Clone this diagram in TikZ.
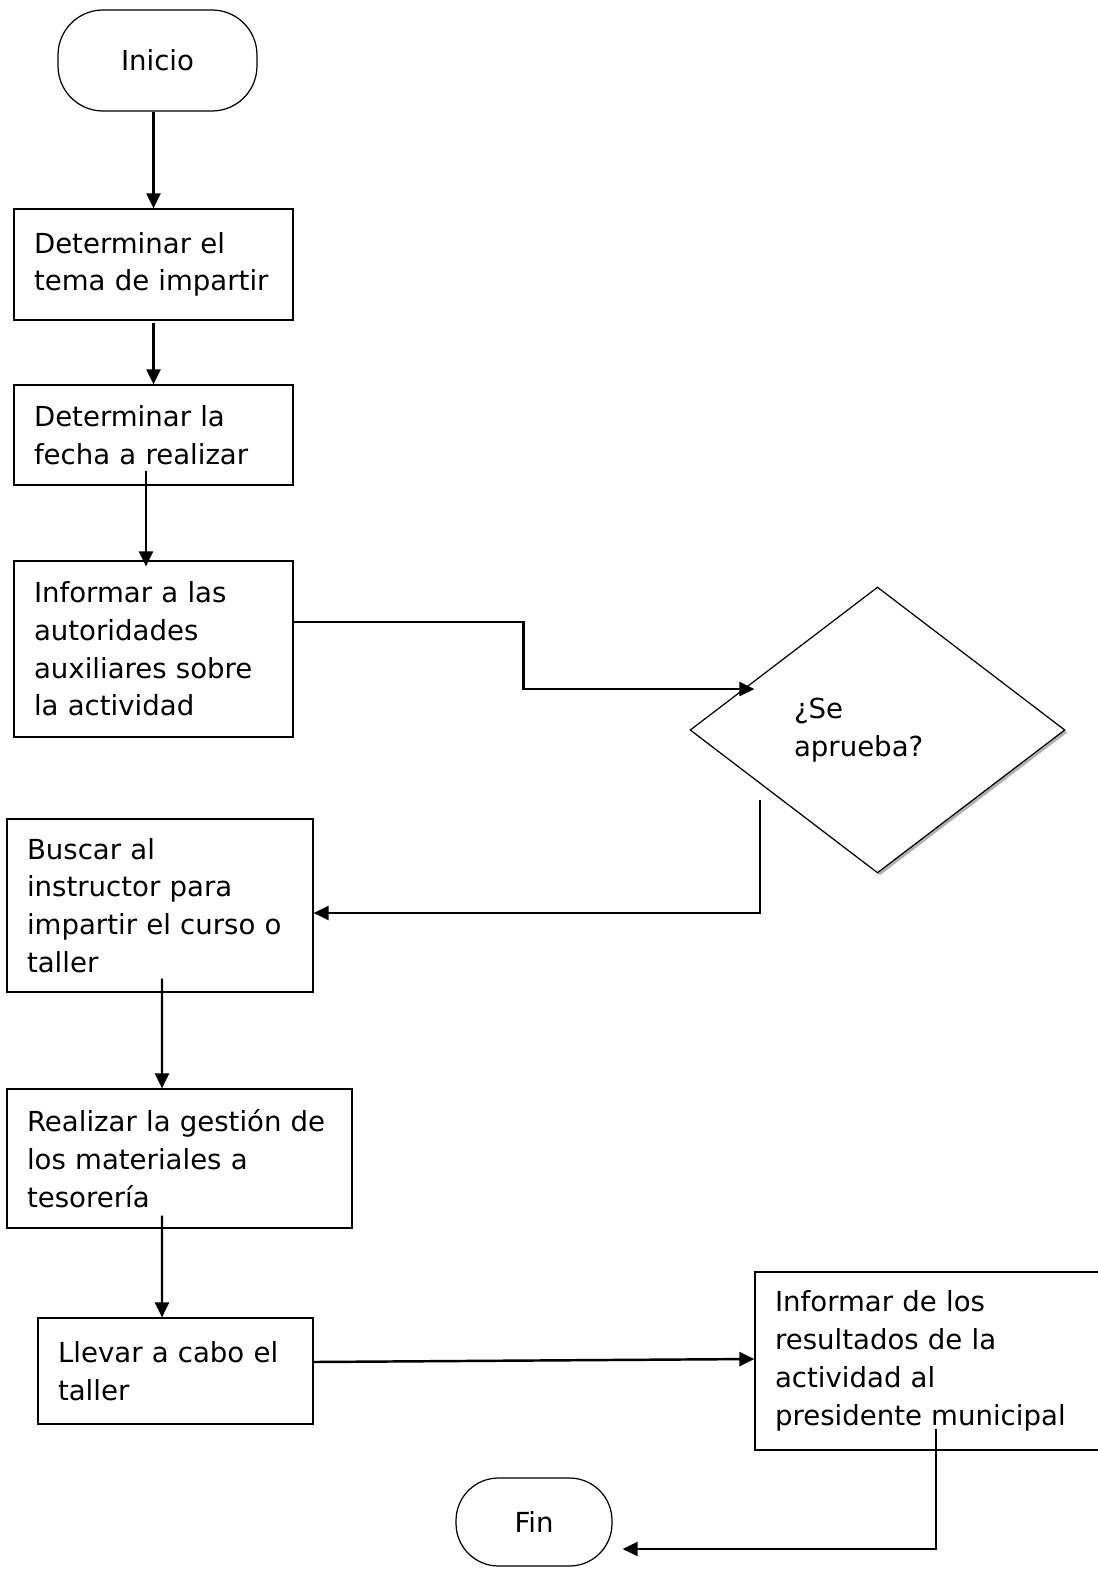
\documentclass[tikz,border=0pt]{standalone}
\usepackage{fontspec}
\setmainfont{DejaVu Sans}
\usetikzlibrary{arrows.meta,shapes.geometric,shadows}

\begin{document}
\begin{tikzpicture}[x=0.02cm,y=-0.02cm,
  txt/.style={font=\fontsize{15.7}{21.5}\selectfont},
  box/.style={txt,draw,rectangle,align=left,inner xsep=0.4cm,line width=0.7pt},
  term/.style={txt,draw,rectangle,line width=0.7pt},
  flow/.style={-{Triangle[length=0.3cm,width=0.28cm]},line width=1.4pt}]
\useasboundingbox (0,0) rectangle (1098,1571);
\node[term,rounded corners=0.9cm,minimum width=3.98cm,minimum height=2.02cm] (inicio) at (157.5,60.5) {Inicio};
\node[box,minimum width=5.58cm,text width=4.78cm,minimum height=2.22cm] (tema) at (153.5,264.5) {Determinar el\\tema de impartir};
\node[box,minimum width=5.58cm,text width=4.78cm,minimum height=2cm] (fecha) at (153.5,435) {Determinar la\\fecha a realizar};
\node[box,minimum width=5.58cm,text width=4.78cm,minimum height=3.52cm] (informar) at (153.5,649) {Informar a las\\autoridades\\auxiliares sobre\\la actividad};
\node[txt,draw,diamond,fill=white,line width=0.7pt,inner sep=0pt,align=left,text width=3.34cm,
  minimum width=7.5cm,minimum height=5.72cm,
  drop shadow={shadow xshift=0.05cm,shadow yshift=-0.05cm,fill=gray!60,opacity=1}] (decision) at (877.5,730) {¿Se\\aprueba?};
\node[box,minimum width=6.12cm,text width=5.32cm,minimum height=3.46cm] (buscar) at (160,905.5) {Buscar al\\instructor para\\impartir el curso o\\taller};
\node[box,minimum width=6.9cm,text width=6.1cm,minimum height=2.78cm] (gestion) at (179.5,1158.5) {Realizar la gestión de\\los materiales a\\tesorería};
\node[box,minimum width=5.5cm,text width=4.7cm,minimum height=2.12cm] (llevar) at (175.5,1371) {Llevar a cabo el\\taller};
\node[box,minimum width=6.9cm,text width=6.1cm,minimum height=3.56cm] (resultados) at (927.5,1361) {Informar de los\\resultados de la\\actividad al\\presidente municipal};
\node[term,rounded corners=0.85cm,minimum width=3.12cm,minimum height=1.76cm] (fin) at (534,1522) {Fin};

\draw[flow] (tema.north |- inicio.south) -- (tema.north);
\draw[flow] ([yshift=-0.04cm]tema.south) -- (fecha.north);
\draw[flow] ([xshift=-0.15cm,yshift=0.3cm]fecha.south) -- ([xshift=-0.15cm,yshift=-0.12cm]informar.north);
\draw[flow] ([yshift=0.54cm]informar.east) -- ++(230,0) |- ([xshift=1.3cm,yshift=0.82cm]decision.west);
\draw[flow] ([xshift=-2.35cm,yshift=-1.4cm]decision.center) |- ([yshift=-0.15cm]buscar.east);
\draw[flow] ([xshift=0.04cm,yshift=0.28cm]buscar.south) -- ([xshift=-0.35cm]gestion.north);
\draw[flow] ([xshift=-0.35cm,yshift=0.26cm]gestion.south) -- ([xshift=-0.27cm]llevar.north);
\draw[flow] ([yshift=0.18cm]llevar.east) -- ([yshift=0.04cm]resultados.west);
\draw[flow] ([xshift=0.17cm,yshift=0.44cm]resultados.south) |- ([xshift=0.2cm,yshift=-0.54cm]fin.east);
\end{tikzpicture}
\end{document}
